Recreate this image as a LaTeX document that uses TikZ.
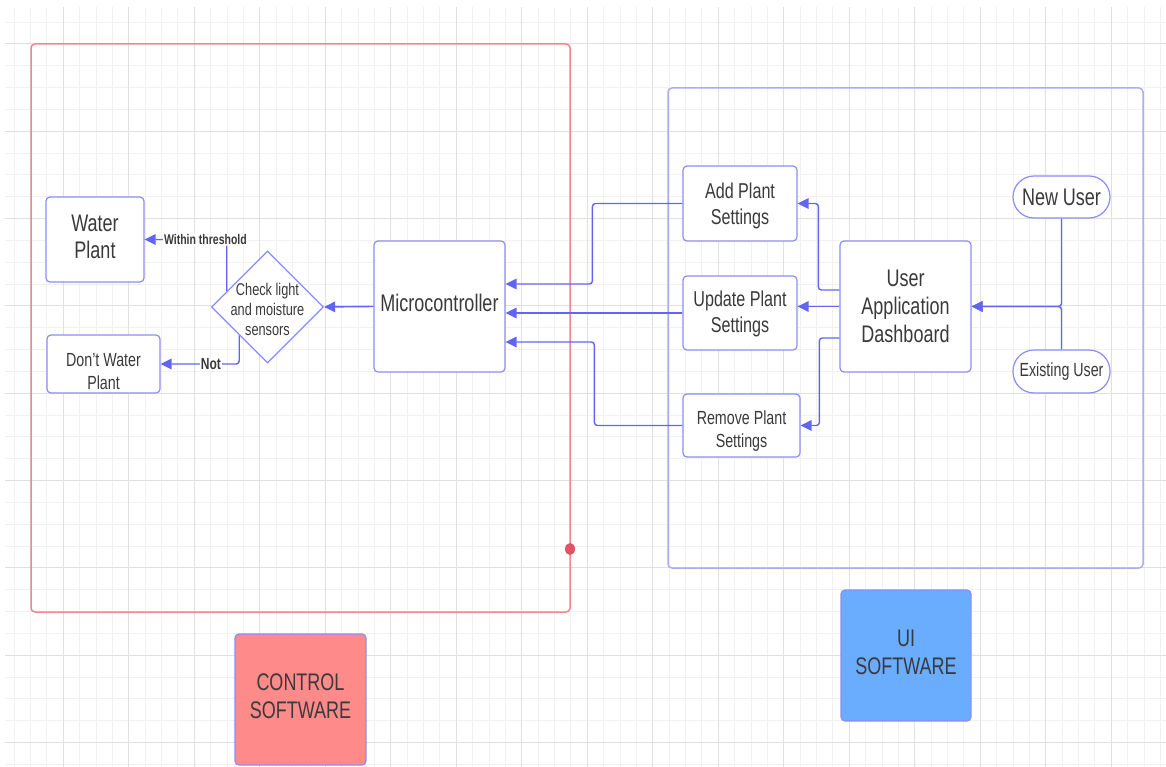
\documentclass[tikz,border=0pt]{standalone}
\usepackage{fontspec}
\setmainfont[FakeStretch=0.75]{Liberation Sans}
\usetikzlibrary{arrows.meta,shapes.geometric,calc}
\definecolor{gridMinor}{HTML}{F1F1F1}
\definecolor{gridMajor}{HTML}{E0E0E0}
\definecolor{boxLine}{HTML}{8C8CF6}
\definecolor{flowLine}{HTML}{6464F2}
\definecolor{ctrlLine}{HTML}{EE8890}
\definecolor{ctrlDot}{HTML}{E05565}
\definecolor{uiLine}{HTML}{ABABF8}
\definecolor{ctrlFill}{HTML}{FF8A8A}
\definecolor{uiFill}{HTML}{6AADFF}
\definecolor{inkText}{HTML}{3A3A3A}
\newcommand{\plantFont}[2]{\fontsize{#1}{#2}\selectfont}
\newcommand{\plantTop}[1]{\rule{0pt}{#1}}
\newcommand{\plantLow}[1]{\rule[-#1]{0pt}{0pt}}

\begin{document}
\begin{tikzpicture}[x=1pt,y=-1pt,
  plantbox/.style={draw=boxLine, line width=1.2pt, rounded corners=4pt, fill=white,
    text=inkText, align=center, inner sep=0pt},
  userpill/.style={plantbox, rounded corners=21pt},
  decide/.style={draw=boxLine, line width=1.2pt, shape=diamond, fill=white,
    minimum width=112pt, minimum height=112pt, inner sep=0pt},
  flow/.style={draw=flowLine, line width=1.4pt, rounded corners=3pt,
    -{Triangle[length=11pt,width=10.5pt]}},
  tag/.style={fill=white, text=inkText, font=\bfseries, inner sep=1pt}]
\useasboundingbox (0,0) rectangle (1166,767);

% grid
\foreach \i in {-3,...,67}
  \draw[gridMinor, line width=1pt] ({63.3+16.375*\i},7) -- ({63.3+16.375*\i},767);
\foreach \j in {-1,...,33}
  \draw[gridMinor, line width=1pt] (5,{44+21.83*\j}) -- (1166,{44+21.83*\j});
\foreach \i in {0,4,...,64}
  \draw[gridMajor, line width=1pt] ({63.3+16.375*\i},7) -- ({63.3+16.375*\i},767);
\foreach \j in {0,4,...,32}
  \draw[gridMajor, line width=1pt] (5,{44+21.83*\j}) -- (1166,{44+21.83*\j});

% containers
\draw[ctrlLine, line width=1.5pt, rounded corners=4pt] (31,44) rectangle (570,612);
\fill[ctrlDot] (570,549) ellipse [x radius=5, y radius=6];
\draw[uiLine, line width=1.5pt, rounded corners=4pt] (668,88) rectangle (1143,568);

% control side
\node[plantbox, minimum width=98pt, minimum height=85pt, font=\plantFont{24}{27}] (water) at (95,239.5) {Water\\Plant\plantLow{6pt}};
\node[plantbox, minimum width=113pt, minimum height=58pt, font=\plantFont{19}{23}] (nowater) at (103.5,364) {\plantTop{28pt}Don't Water\\Plant};
\node[decide] (check) at (267.5,307) {};
\node[text=inkText, align=center, font=\plantFont{17}{20}] (checktxt) at (267.5,309) {Check light\\and moisture\\sensors};
\node[plantbox, minimum width=131pt, minimum height=131pt, font=\plantFont{24}{27}] (micro) at (439.5,306.5) {Microcontroller\plantLow{8pt}};

% ui side
\node[plantbox, minimum width=114pt, minimum height=75pt, font=\plantFont{21.5}{26}] (addset) at (740,203.5) {\plantTop{20pt}Add Plant\\Settings};
\node[plantbox, minimum width=114pt, minimum height=74pt, font=\plantFont{21.5}{26}] (updset) at (740,313) {\plantTop{18pt}Update Plant\\Settings};
\node[plantbox, minimum width=117pt, minimum height=63pt, font=\plantFont{19}{23}] (remset) at (741.5,425.5) {\plantTop{24pt}Remove Plant\\Settings};
\node[plantbox, minimum width=131pt, minimum height=131pt, font=\plantFont{24}{28}] (dash) at (905.5,306.5) {User\\Application\\Dashboard};
\node[userpill, minimum width=97pt, minimum height=42pt, font=\plantFont{24}{27}] (newuser) at (1061.5,197) {New User};
\node[userpill, minimum width=97pt, minimum height=43pt, font=\plantFont{19}{23}] (olduser) at (1061.5,371.5) {Existing User};

% legend
\node[plantbox, fill=ctrlFill, minimum width=131pt, minimum height=131pt, font=\plantFont{24}{28}] (ctrl) at (300.5,699.5) {CONTROL\\SOFTWARE\plantLow{6pt}};
\node[plantbox, fill=uiFill, minimum width=130pt, minimum height=131pt, font=\plantFont{24}{28}] (uisw) at (906,655.5) {UI\\SOFTWARE\plantLow{6pt}};

% connectors
\draw[flow] (micro.west) -- (check.east);
\draw[flow] ($(check.west)!0.28!(check.north)$) |- (water.east)
  node[tag, pos=0.63, font=\bfseries\plantFont{14}{16}] (within) {Within threshold};
\draw[flow] (check.south west) |- (nowater.east)
  node[tag, pos=0.68, font=\bfseries\plantFont{16}{18}] (nottag) {Not};
\draw[flow] (addset.west) -- ++(-90,0) |- ([yshift=22.5pt]micro.east);
\draw[flow] (updset.west) -- (updset.west -| micro.east);
\draw[flow] (remset.west) -- ++(-88,0) |- ([yshift=-35.5pt]micro.east);
\draw[flow] ([yshift=16.5pt]dash.west) -- ++(-21,0) |- (addset.east);
\draw[flow] (dash.west) -- (dash.west -| updset.east);
\draw[flow] ([yshift=-31.5pt]dash.west) -- ++(-20,0) |- (remset.east);
\draw[flow] (newuser.south) |- (dash.east);
\draw[flow] (olduser.north) |- (dash.east);
\end{tikzpicture}
\end{document}
